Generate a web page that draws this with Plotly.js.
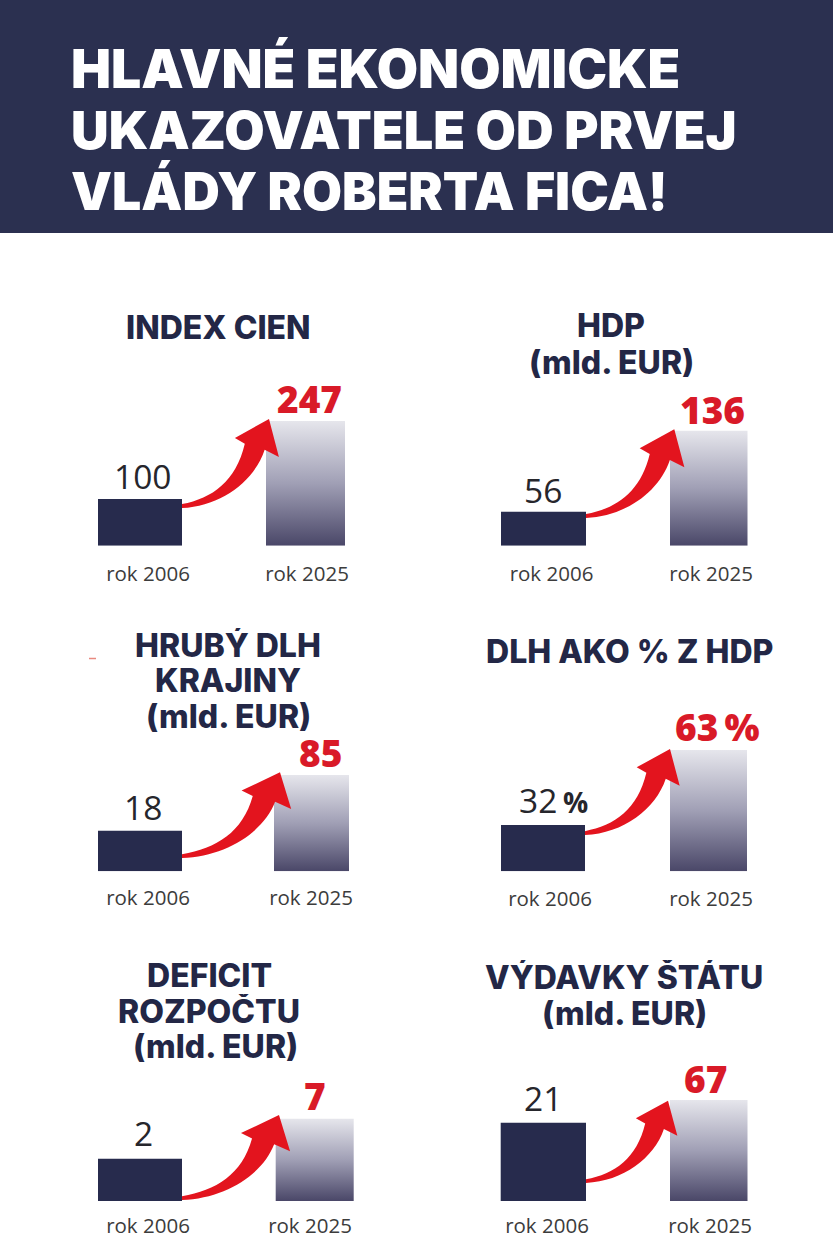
<!DOCTYPE html>
<html><head><meta charset="utf-8">
<script src="https://cdn.plot.ly/plotly-3.0.1.min.js"></script>
<style>html,body{margin:0;padding:0;background:#fff}#c{width:833px;height:1250px}</style></head>
<body><div id="c"></div>
<script>
const headline = ['HLAVNÉ EKONOMICKE','UKAZOVATELE OD PRVEJ','VLÁDY ROBERTA FICA!'];
const categories = ['rok 2006','rok 2025'];
const panelTitles = [['INDEX CIEN'],['HDP','(mld. EUR)'],['HRUBÝ DLH','KRAJINY','(mld. EUR)'],['DLH AKO % Z HDP'],['DEFICIT','ROZPOČTU','(mld. EUR)'],['VÝDAVKY ŠTÁTU','(mld. EUR)']];
const values2006 = [100,56,18,32,2,21];
const values2025 = [247,136,85,63,7,67];
const suffix2006 = ['','','','\u2009<span style="font-size:28px;font-weight:700">%</span>','',''];
const suffix2025 = ['','','','\u2009%','',''];

// page geometry, in pixels
const W=833,H=1250, PH=200;
const baseY   = [545.7,545.7,871.3,871.3,1201,1201];
const tickX   = [[148,307],[551.5,711],[148,311],[550,711],[148,310],[547,710]];
const barA    = [[98,182,499],[501,586,511.7],[98,182,830.7],[501,585,825],[98,182,1158.7],[500.7,586,1122.7]];
const barB    = [[266,345,421],[670,747.5,430.7],[274,349,775],[670,747,750],[275.7,353.7,1118.7],[670,747.5,1100]];
const labA    = [[142,476],[543,490],[143,806.7],[553.5,800],[143,1133],[543,1098]];
const labB    = [[309,398],[712,409],[320.7,752.7],[717,726],[315,1095],[705.7,1078]];
const titleLineY = [[327],[325,362],[645,680,716],[651],[975,1011,1046],[977,1013]];
const titleCx = [[218],[611,611],[228,228,228],[629],[209,209,215],[624,624]];
const tickGap = [14,14,12,13,10,10];
const arrows  = [[182,508,269,419],[586,518,674.3,429.3],[182,858,280,772.3],[585,835,670,749],[182,1200,279,1115],[586,1183,668,1100.7]];

const px=x=>x/W, py=y=>1-y/H;
function arrowPath(a){
  const [x0,y0,x1,y1]=a;
  const P=(u,v)=>px(x0+u*(x1-x0)).toFixed(5)+','+py(y0+v*(y1-y0)).toFixed(5);
  return 'M'+P(0,0)+' L'+P(0,.045)+' C'+P(.35,.11)+' '+P(.62,.3)+' '+P(.722,.723)+
    ' L'+P(.608,.787)+' L'+P(1,1)+' L'+P(1.114,.573)+' L'+P(.95,.655)+
    ' C'+P(.83,.3)+' '+P(.45,.02)+' '+P(0,0)+' Z';
}
const NAVY='#272b4d', GRAD='#8a88a1', RED='#e3141e', TXT='#232746';
const traces=[], annotations=[], shapes=[];
const layout={width:W,height:H,margin:{l:0,r:0,t:0,b:0},paper_bgcolor:'#fff',plot_bgcolor:'rgba(0,0,0,0)',
  showlegend:false,barmode:'overlay',annotations,shapes};

shapes.push({type:'rect',xref:'paper',yref:'paper',x0:0,x1:1,y0:py(233),y1:1,fillcolor:'#2b3050',line:{width:0},layer:'below'});
shapes.push({type:'line',xref:'paper',yref:'paper',x0:px(89),x1:px(96),y0:py(658.5),y1:py(658.5),line:{color:'#e88a80',width:1.5}});
headline.forEach((t,i)=>annotations.push({text:t,xref:'paper',yref:'paper',x:px(69),y:py([68.5,130,191][i]),xanchor:'left',yanchor:'middle',showarrow:false,
  font:{family:'Inter, Liberation Sans',size:[53.4,52.2,51.7][i],weight:900,color:'#fff'}}));

panelTitles.forEach((lines,i)=>{
  const n=i+1, xk='x'+n, yA='y'+(2*i+1), yB='y'+(2*i+2);
  const xn=n===1?'xaxis':'xaxis'+n, yAn=i===0?'yaxis':'yaxis'+(2*i+1), yBn='yaxis'+(2*i+2);
  const [t0,t1]=tickX[i], u=t1-t0, dom0=t0-u/2, dom1=t1+u/2;
  const toU=(x,c)=>(x-c)/u;
  layout[xn]={domain:[px(dom0),px(dom1)],range:[-.5,1.5],type:'category',categoryorder:'array',categoryarray:categories,anchor:yA,
    showgrid:false,zeroline:false,showline:false,ticks:'',ticklabelstandoff:tickGap[i],tickfont:{family:'Open Sans',size:20.5,color:'#3c3c3c'},fixedrange:true};
  const yBase={domain:[py(baseY[i]),py(baseY[i]-PH)],showgrid:false,zeroline:false,showline:false,showticklabels:false,ticks:'',anchor:xk,fixedrange:true};
  const hA=baseY[i]-barA[i][2], hB=baseY[i]-barB[i][2];
  layout[yAn]=Object.assign({},yBase,{range:[0,values2006[i]*PH/hA]});
  layout[yBn]=Object.assign({},yBase,{range:[0,values2025[i]*PH/hB],overlaying:yA});
  traces.push({type:'bar',x:[categories[0]],y:[values2006[i]],xaxis:xk,yaxis:yA,cliponaxis:false,
    width:[(barA[i][1]-barA[i][0])/u],offset:[toU(barA[i][0],t0)],marker:{color:NAVY,line:{width:0}},hoverinfo:'x+y'});
  traces.push({type:'bar',x:[categories[1]],y:[values2025[i]],xaxis:xk,yaxis:yB,cliponaxis:false,
    width:[(barB[i][1]-barB[i][0])/u],offset:[toU(barB[i][0],t1)],marker:{color:GRAD,line:{width:0}},hoverinfo:'x+y'});
  annotations.push({text:values2006[i]+suffix2006[i],xref:xk,yref:yA,x:0,y:values2006[i],xshift:labA[i][0]-t0,yshift:barA[i][2]-labA[i][1],
    xanchor:'center',yanchor:'middle',showarrow:false,font:{family:'Open Sans',size:33.5,color:'#26262c'}});
  annotations.push({text:values2025[i]+suffix2025[i],xref:xk,yref:yB,x:1,y:values2025[i],xshift:labB[i][0]-t1,yshift:barB[i][2]-labB[i][1],
    xanchor:'center',yanchor:'middle',showarrow:false,font:{family:'Open Sans',size:37,weight:800,color:'#d91a28'}});
  lines.forEach((t,j)=>annotations.push({text:t,xref:'paper',yref:'paper',x:px(titleCx[i][j]),y:py(titleLineY[i][j]),xanchor:'center',yanchor:'middle',showarrow:false,height:34,
    font:{family:'Inter, Liberation Sans',size:32,weight:800,color:TXT}}));
  shapes.push({type:'path',xref:'paper',yref:'paper',path:arrowPath(arrows[i]),fillcolor:RED,line:{width:0},layer:'above'});
});

const gd=document.getElementById('c');
Plotly.newPlot(gd,traces,layout,{displayModeBar:false}).then(()=>{
  const svg=gd.querySelector('svg.main-svg');
  const ns='http://www.w3.org/2000/svg';
  const defs=svg.querySelector('defs')||svg.appendChild(document.createElementNS(ns,'defs'));
  const g=document.createElementNS(ns,'linearGradient');
  g.setAttribute('id','barFade');g.setAttribute('x1','0');g.setAttribute('y1','0');g.setAttribute('x2','0');g.setAttribute('y2','1');
  [['0','#e6e6ec'],['0.5','#a09fb5'],['1','#4a4768']].forEach(([o,c])=>{
    const s=document.createElementNS(ns,'stop');s.setAttribute('offset',o);s.setAttribute('stop-color',c);g.appendChild(s);});
  defs.appendChild(g);
  gd.querySelectorAll('.bars .point path').forEach(p=>{
    if(p.style.fill.replace(/\s/g,'')==='rgb(138,136,161)') p.style.fill='url(#barFade)';
  });
});
</script></body></html>
